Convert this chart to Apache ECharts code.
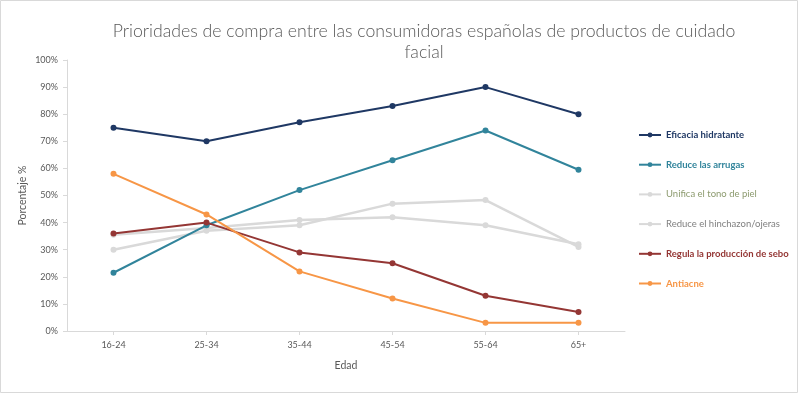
<!DOCTYPE html>
<html><head><meta charset="utf-8">
<script src="https://cdn.jsdelivr.net/npm/echarts@6/dist/echarts.min.js"></script>
<style>html,body{margin:0;padding:0;background:#fff}#c{width:799px;height:394px}</style>
</head><body><div id="c"></div>
<script>
const categories = ['16-24','25-34','35-44','45-54','55-64','65+'];
const eficacia = [75, 70, 77, 83, 90, 80];
const arrugas = [21.5, 39, 52, 63, 74, 59.5];
const unifica = [30, 37, 39, 47, 48.3, 31];
const hinchazon = [35.5, 38, 41, 42, 39, 32];
const sebo = [36, 40, 29, 25, 13, 7];
const antiacne = [58, 43, 22, 12, 3, 3];
const names = ['Eficacia hidratante','Reduce las arrugas','Unifica el tono de piel','Reduce el hinchazon/ojeras','Regula la producción de sebo','Antiacne'];
const values = [eficacia, arrugas, unifica, hinchazon, sebo, antiacne];
const colors = ['#1F3864','#31849B','#D9D9D9','#D9D9D9','#943634','#F79646'];
const textColors = ['#1F3864','#31849B','#8C9A6E','#7F7F7F','#943634','#F79646'];
const bold = ['bold','bold','normal','normal','bold','bold'];
const font = 'Lato, "Liberation Sans", sans-serif';

const chart = echarts.init(document.getElementById('c'), null, {renderer:'canvas'});
chart.setOption({
  animation:false,
  textStyle:{fontFamily:font},
  title:{
    text:'Prioridades de compra entre las consumidoras españolas de productos de cuidado\nfacial',
    left:419, top:16, textAlign:'center',
    textStyle:{fontFamily:font, fontSize:17.7, fontWeight:300, color:'#595959', lineHeight:21}
  },
  graphic:[{type:'rect', shape:{x:0.5,y:0.5,width:797,height:392}, style:{fill:'none', stroke:'#D9D9D9', lineWidth:1}, silent:true}],
  legend:{
    orient:'vertical', left:633, top:125, itemGap:19.7, itemWidth:22, itemHeight:6,
    textStyle:{fontFamily:font, fontSize:9.5},
    data: names.map((n,i)=>({name:n, textStyle:{color:textColors[i], fontWeight:bold[i]}}))
  },
  grid:{left:67, right:174, top:60, bottom:63, containLabel:false},
  xAxis:{
    type:'category', data:categories, boundaryGap:true,
    name:'Edad', nameLocation:'middle', nameGap:29, nameMoveOverlap:false,
    nameTextStyle:{color:'#595959', fontSize:10.5, fontFamily:font},
    axisLine:{lineStyle:{color:'#D9D9D9', width:1}},
    axisTick:{show:true, alignWithLabel:true, length:4, lineStyle:{color:'#D9D9D9'}},
    axisLabel:{color:'#595959', fontSize:9, margin:10, fontFamily:font}
  },
  yAxis:{
    type:'value', min:0, max:100, interval:10,
    name:'Porcentaje %', nameLocation:'middle', nameGap:39, nameRotate:90, nameMoveOverlap:false,
    nameTextStyle:{color:'#595959', fontSize:10.5, fontFamily:font},
    axisLine:{show:true, lineStyle:{color:'#D9D9D9', width:1}},
    axisTick:{show:true, length:4, lineStyle:{color:'#D9D9D9'}},
    splitLine:{show:false},
    axisLabel:{color:'#595959', fontSize:9, margin:9, formatter:'{value}%', fontFamily:font}
  },
  series: names.map((n,i)=>({
    name:n, type:'line', data:values[i], symbol:'circle', symbolSize:6,
    itemStyle:{color:colors[i]}, lineStyle:{color:colors[i], width: (i===2||i===3)?2.5:2},
    emphasis:{disabled:true}, z: (i===2||i===3)?1:2
  }))
});
</script></body></html>
